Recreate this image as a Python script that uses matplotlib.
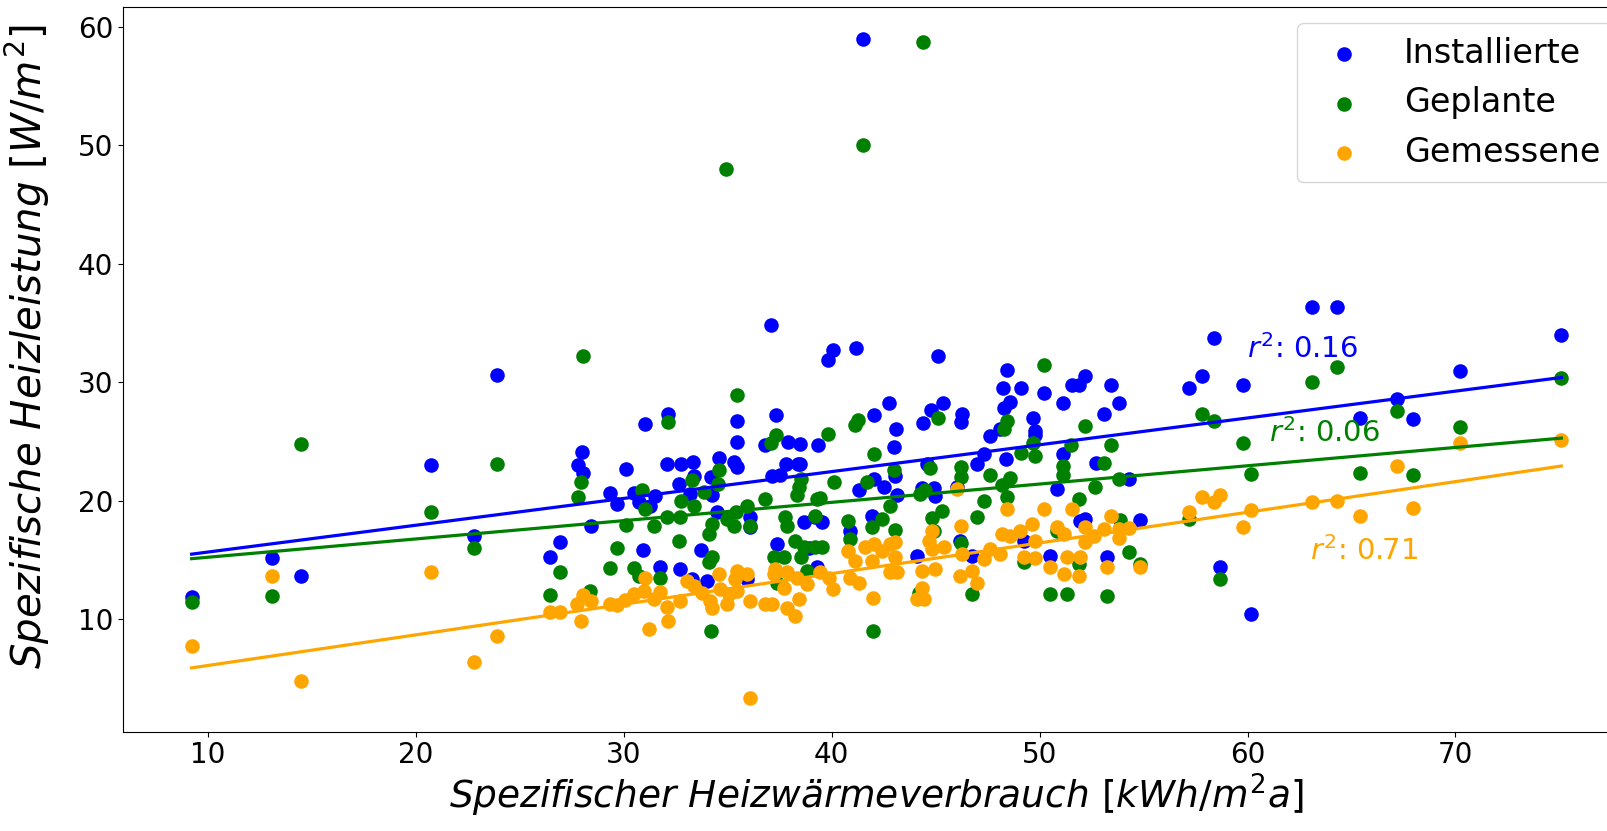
import matplotlib
matplotlib.use("Agg")
import matplotlib.pyplot as plt
import numpy as np

# ---- data ----
inst_x = [9.21, 13.1, 14.49, 20.71, 22.78, 23.9,
          37.08, 32.12, 31.03, 35.46, 37.33, 36.8, 35.46, 37.9, 38.49, 39.34, 27.97, 27.81, 28.05,
          30.09, 32.07, 32.73, 33.34, 34.58, 35.3, 35.46, 33.36, 34.21, 32.64, 37.8, 38.4, 37.13, 37.5,
          29.32, 29.67, 30.47, 30.71, 31.48, 31.27, 33.2, 34.24, 28.4, 26.91, 26.46, 30.9, 31.75,
          32.68, 33.73, 34.48, 36.08, 36.08, 38.65, 37.37, 38.89, 39.21, 33.28, 34.0, 35.92, 39.29,
          40.06, 39.8, 41.15, 45.11, 48.45, 48.24, 49.12, 50.21, 48.56, 48.3, 51.11, 51.56, 51.91,
          52.2, 42.75, 42.03, 43.09, 44.79, 45.34, 44.37, 46.27, 46.23, 49.66, 48.11, 49.76, 49.79,
          42.98, 47.6, 47.31, 46.99, 48.38, 51.12, 52.7, 38.49, 43.06, 44.58, 42.03,
          41.3, 42.5, 43.14, 41.94, 39.53, 40.86, 44.34, 44.9, 44.98, 46.03, 46.15, 44.1, 46.75,
          50.84, 52.2, 51.96, 49.23, 50.51,
          63.1, 64.3, 58.37, 75.09, 57.81, 57.2, 59.77, 70.24, 53.45, 53.8, 53.08, 67.19, 65.43,
          67.96, 54.28, 54.84, 53.24, 58.69, 60.18, 41.5]
inst_y = [11.87, 15.14, 13.6, 23.0, 17.04, 30.6,
          34.82, 27.27, 26.5, 26.7, 27.2, 24.7, 24.92, 24.95, 24.81, 24.7, 24.13, 23.0, 22.32,
          22.69, 23.05, 23.05, 23.25, 23.62, 23.25, 22.8, 22.07, 21.98, 21.4, 23.08, 23.08, 22.07, 22.2,
          20.66, 19.67, 20.66, 19.87, 20.37, 19.58, 20.57, 20.43, 17.83, 16.53, 15.26, 15.82, 14.35,
          14.21, 15.82, 19.02, 18.59, 17.75, 18.2, 16.33, 16.0, 18.59, 13.36, 13.2, 13.36, 14.35,
          32.67, 31.85, 32.87, 32.22, 31.03, 29.47, 29.53, 29.1, 28.29, 27.78, 28.23, 29.76, 29.76,
          30.55, 28.26, 27.21, 26.02, 27.64, 28.26, 26.56, 27.27, 26.65, 26.99, 26.08, 25.85, 25.52,
          24.53, 25.43, 23.96, 23.11, 23.48, 23.96, 23.2, 23.11, 22.07, 23.11, 21.84,
          20.86, 21.14, 20.43, 18.73, 18.23, 17.46, 21.05, 21.05, 20.37, 21.14, 16.61, 15.34, 15.29,
          20.99, 18.45, 18.31, 16.61, 15.34,
          36.34, 36.34, 33.71, 33.94, 30.55, 29.53, 29.76, 30.94, 29.76, 28.26, 27.27, 28.57, 26.99,
          26.87, 21.78, 18.39, 15.2, 14.35, 10.45, 58.94]

plan_x = [9.21, 13.1, 14.49, 20.71, 22.78, 23.9, 44.38, 41.5, 34.9,
          28.03, 35.46, 32.12, 37.33, 37.08, 27.95, 34.58, 33.28, 34.51, 38.5,
          27.81, 30.89, 31.03, 32.73, 33.36, 33.84, 32.07, 32.72, 30.09, 31.47, 26.91, 26.46, 29.67,
          29.32, 30.47, 30.71, 31.75, 32.64, 34.24, 34.08, 34.24, 34.11, 34.96, 35.41, 35.92, 36.08,
          36.8, 35.28, 37.77, 37.85, 38.25, 37.2, 37.69, 38.5, 38.65, 39.29, 38.33, 38.41, 39.21,
          28.39, 38.81, 37.37, 34.19,
          50.21, 52.2, 41.25, 41.1, 45.11, 48.43, 48.27, 39.8, 42.03, 49.09, 49.66, 49.79, 51.51,
          51.11, 51.11, 42.98, 44.74, 46.23, 46.23, 47.6, 48.56, 40.09, 41.7,
          39.42, 42.82, 42.42, 41.94, 39.21, 40.78, 40.9, 43.06, 39.53, 44.5, 44.26, 45.3, 44.82,
          44.9, 47.31, 46.99, 46.22, 48.19, 48.43, 52.68, 51.88, 50.84, 49.23, 50.51, 51.32, 51.88,
          46.75, 41.99, 44.18,
          64.3, 63.1, 75.09, 57.81, 58.37, 67.19, 70.24, 53.45, 59.77, 53.08, 53.8, 60.18, 65.43,
          67.96, 57.2, 53.85, 54.28, 54.84, 53.24, 58.69]
plan_y = [11.4, 11.95, 24.8, 19.0, 15.96, 23.06, 58.71, 50.0, 48.0,
          32.19, 28.9, 26.65, 25.57, 24.86, 21.56, 22.55, 21.7, 21.42, 21.85,
          20.29, 20.86, 19.3, 20.0, 19.58, 20.71, 18.59, 18.65, 17.97, 17.89, 13.93, 12.03, 15.96,
          14.27, 14.3, 13.65, 13.42, 16.56, 15.2, 14.78, 18.03, 17.18, 18.45, 19.02, 19.58, 17.89,
          20.15, 17.89, 18.59, 17.83, 16.6, 15.2, 15.2, 15.2, 16.05, 20.15, 20.43, 21.14, 16.05,
          12.37, 14.07, 13.08, 8.98,
          31.48, 26.31, 26.79, 26.36, 26.93, 26.7, 26.0, 25.6, 23.96, 24.02, 24.89, 23.76, 24.67,
          22.91, 22.12, 22.55, 22.74, 22.83, 21.98, 22.12, 21.9, 21.56, 21.56,
          20.2, 19.58, 18.45, 17.75, 18.73, 18.31, 16.76, 17.55, 16.05, 20.86, 20.57, 19.16, 18.51,
          17.46, 20.0, 18.59, 16.42, 21.28, 20.29, 21.14, 20.15, 17.46, 14.78, 12.09, 12.09, 14.64,
          12.09, 8.98, 12.23,
          31.28, 30.04, 30.38, 27.35, 26.7, 27.58, 26.22, 24.67, 24.84, 23.17, 21.78, 22.21, 22.32,
          22.18, 18.45, 18.39, 15.62, 14.63, 11.94, 13.41]

meas_x = [9.21, 13.1, 14.49, 20.71, 22.78, 23.9,
          26.46, 26.91, 27.95, 27.74, 28.03, 28.42, 29.32, 29.67, 30.07, 30.47, 30.95, 31.03, 31.43,
          31.75, 32.07, 32.12, 31.21, 32.72, 33.04, 33.36, 33.76, 34.16, 34.24, 34.56, 34.64, 34.96,
          35.04, 35.44, 35.36, 35.92, 35.44, 36.05, 36.8, 37.13, 37.29, 37.2, 37.85, 37.69, 38.33,
          38.41, 37.85, 38.25, 36.05,
          38.81, 39.42, 39.85, 40.06, 40.78, 41.14, 40.89, 41.3, 41.62, 42.02, 41.99, 41.94, 42.42,
          42.79, 43.06, 43.06, 42.79, 43.14, 44.34, 44.34, 44.1, 44.42, 44.82, 44.66, 44.82, 44.98,
          45.38, 46.03, 46.23, 46.27, 46.15, 46.75, 46.99, 47.31, 47.63, 48.11, 48.19, 48.43, 48.59,
          49.07, 49.63, 49.79, 50.19, 49.23, 49.79, 50.51, 51.16, 50.84, 51.16, 51.56, 51.32, 51.93,
          51.88, 52.2, 52.2, 52.6,
          70.24, 75.09, 67.19, 57.81, 58.69, 58.37, 57.2, 60.18, 63.1, 64.3, 65.43, 67.96, 59.77,
          53.45, 53.08, 53.8, 54.28, 53.8, 54.84, 53.24]
meas_y = [7.7, 13.6, 4.8, 14.0, 6.4, 8.6,
          10.6, 10.6, 9.85, 11.3, 12.0, 11.52, 11.3, 11.16, 11.61, 12.09, 12.37, 13.5, 11.67,
          12.29, 11.02, 9.83, 9.15, 11.52, 13.22, 12.8, 12.23, 11.52, 10.96, 13.79, 12.51, 11.24,
          12.09, 14.07, 13.36, 13.79, 12.37, 11.52, 11.3, 11.3, 14.21, 13.79, 13.93, 12.66, 13.5,
          11.67, 10.96, 10.25, 3.3,
          12.94, 13.93, 13.5, 12.57, 15.77, 14.92, 13.5, 13.08, 16.05, 16.33, 11.81, 14.92, 15.77,
          16.33, 16.47, 15.2, 13.93, 13.93, 14.07, 12.66, 11.72, 11.67, 17.46, 16.61, 15.91, 14.21,
          16.05, 20.99, 17.89, 15.49, 13.65, 14.07, 13.08, 15.06, 15.91, 15.49, 17.18, 19.3, 17.04,
          17.46, 18.03, 16.61, 19.3, 15.2, 15.12, 14.35, 13.79, 17.75, 17.18, 19.3, 15.2, 15.2,
          13.65, 17.75, 16.47, 17.04,
          24.86, 25.09, 22.91, 20.28, 20.51, 19.86, 19.07, 19.21, 19.92, 19.97, 18.73, 19.35, 17.74,
          18.73, 17.6, 17.6, 17.66, 16.81, 14.43, 14.35]

# regression lines (slope, intercept)
fit_slope = [0.2264, 0.1545, 0.2587]
fit_intercept = [13.39, 13.67, 3.49]

series_labels = ["Installierte", "Geplante", "Gemessene"]
series_colors = ["blue", "green", "orange"]
r2_texts = ["0.16", "0.06", "0.71"]
r2_pos_x = [59.97, 61.02, 63.02]
r2_pos_y = [32.75, 25.66, 15.77]

plt.rcParams['font.family'] = ['DejaVu Sans']
plt.rcParams['mathtext.fontset'] = 'dejavusans'

fig = plt.figure(figsize=(16.07, 8.31), dpi=100)
ax = fig.add_axes([0.0764, 0.1197, 0.938, 0.8723])

data = [(inst_x, inst_y), (plan_x, plan_y), (meas_x, meas_y)]
for (xs, ys), lab, col in zip(data, series_labels, series_colors):
    ax.scatter(xs, ys, s=110, color=col, label=lab, zorder=2, linewidths=0)

for (xs, ys), k, d, col in zip(data, fit_slope, fit_intercept, series_colors):
    xs = np.asarray(xs)
    xl = np.array([xs.min(), xs.max()])
    ax.plot(xl, k * xl + d, color=col, lw=2.3, zorder=3)

for t, px, py, col in zip(r2_texts, r2_pos_x, r2_pos_y, series_colors):
    ax.text(px, py, r"$r^2$: " + t, color=col, fontsize=21, ha='left', va='center')

ax.set_xlim(5.9, 78.4)
ax.set_ylim(0.5, 61.7)
ax.set_xticks([10, 20, 30, 40, 50, 60, 70])
ax.set_yticks([10, 20, 30, 40, 50, 60])
ax.tick_params(labelsize=20)
ax.set_xlabel(r"$Spezifischer\ Heizwärmeverbrauch\ [kWh/m^2a]$", fontsize=27, labelpad=2)
ax.set_ylabel(r"$Spezifische\ Heizleistung\ [W/m^2]$", fontsize=29, labelpad=2)
ax.yaxis.set_label_coords(-0.047, 0.53)
ax.legend(loc='upper right', fontsize=24)

fig.savefig("out.png", dpi=100)
